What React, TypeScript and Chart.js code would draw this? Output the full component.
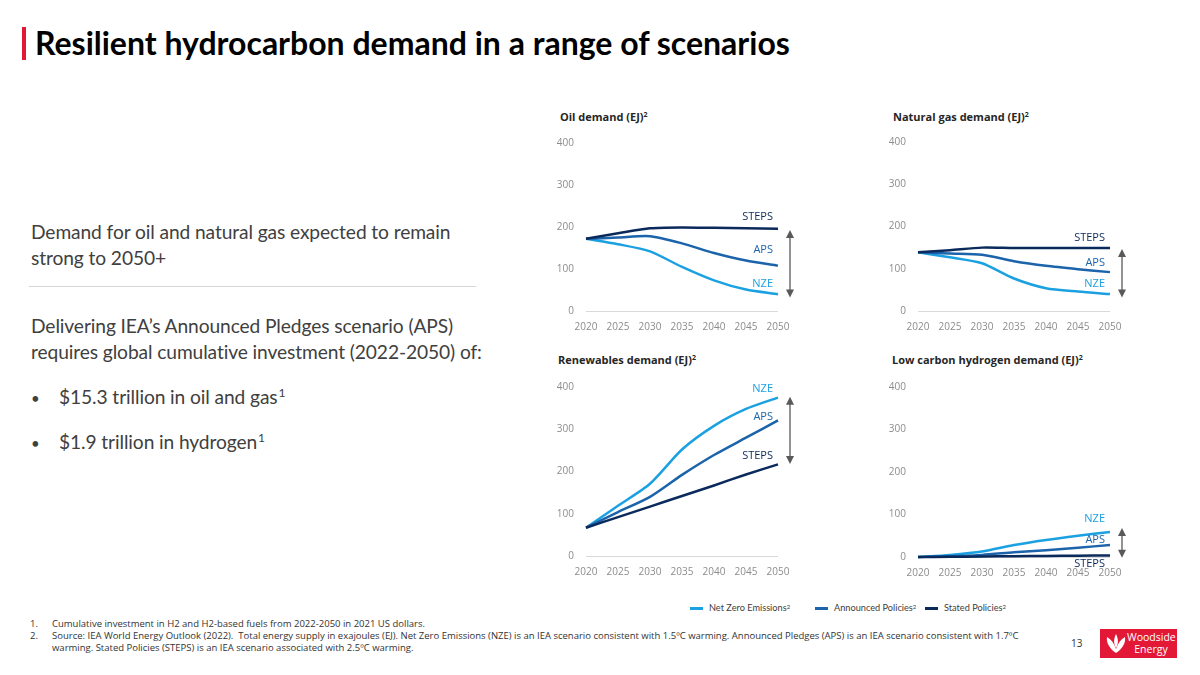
import React, { useEffect, useRef } from "react";
import { Chart, registerables } from "chart.js";
Chart.register(...registerables);

// ---------- data ----------
const years = ["2020", "2025", "2030", "2035", "2040", "2045", "2050"];
const yTickMax = 400;
const yTickStep = 100;

const oilNZE = [172, 159, 142, 105, 73, 51, 40];
const oilAPS = [172, 175, 178, 161, 138, 120, 108];
const oilSTEPS = [172, 185, 197, 199, 198, 197, 196];

const gasNZE = [139, 127, 113, 77, 54, 46, 40];
const gasAPS = [139, 136, 133, 118, 107, 99, 92];
const gasSTEPS = [139, 144, 150, 149, 149, 149, 149];

const renNZE = [67, 119, 171, 252, 308, 348, 375];
const renAPS = [67, 104, 140, 192, 239, 280, 321];
const renSTEPS = [67, 92, 117, 142, 167, 193, 217];

const h2NZE = [0, 5, 13, 28, 40, 50, 59];
const h2APS = [0, 2, 5, 11, 16, 22, 28];
const h2STEPS = [0, 0.5, 1, 2, 2.5, 3, 3.5];

const seriesNames = ["Net Zero Emissions", "Announced Policies", "Stated Policies"];
const scenarioTags = ["NZE", "APS", "STEPS"];

// label positions as values (EJ) and arrow spans (EJ)
const oilLabelValues = [64, 145, 225];
const gasLabelValues = [64, 114, 174];
const renLabelValues = [395, 329, 237];
const h2LabelValues = [90, 41, -15];

const oilArrow = [193, 32];
const gasArrow = [147, 32];
const renArrow = [377, 218];
const h2Arrow = [68, -2];

// ---------- styles ----------
const COLORS = ["#1ba1e2", "#1b64ab", "#0b2a5c"];
const FONT = '"Open Sans", "Noto Sans", sans-serif';
const TICK_COLOR = "#8c8c8c";

type PanelProps = {
  left: number;
  top: number;
  width: number;
  height: number;
  series: number[][];
  labelValues: number[];
  arrow: number[];
};

function Panel({ left, top, width, height, series, labelValues, arrow }: PanelProps) {
  const ref = useRef<HTMLCanvasElement>(null);
  useEffect(() => {
    const annPlugin = {
      id: "scenarioAnn",
      afterDatasetsDraw(chart: any) {
        const { ctx, scales } = chart;
        const x = scales.x;
        const y = scales.y;
        const xEnd = x.getPixelForValue(years.length - 1);
        ctx.save();
        ctx.font = `11px ${FONT}`;
        ctx.textAlign = "right";
        ctx.textBaseline = "middle";
        labelValues.forEach((v, i) => {
          ctx.fillStyle = COLORS[i];
          ctx.fillText(scenarioTags[i], xEnd - 5, y.getPixelForValue(v));
        });
        const ax = xEnd + 12;
        const y1 = y.getPixelForValue(arrow[0]);
        const y2 = y.getPixelForValue(arrow[1]);
        ctx.strokeStyle = "#595959";
        ctx.fillStyle = "#595959";
        ctx.lineWidth = 1.3;
        ctx.beginPath();
        ctx.moveTo(ax, y1 + 5);
        ctx.lineTo(ax, y2 - 5);
        ctx.stroke();
        ctx.beginPath();
        ctx.moveTo(ax, y1);
        ctx.lineTo(ax - 4, y1 + 8);
        ctx.lineTo(ax + 4, y1 + 8);
        ctx.closePath();
        ctx.fill();
        ctx.beginPath();
        ctx.moveTo(ax, y2);
        ctx.lineTo(ax - 4, y2 - 8);
        ctx.lineTo(ax + 4, y2 - 8);
        ctx.closePath();
        ctx.fill();
        ctx.restore();
      },
    };
    const chart = new Chart(ref.current!, {
      type: "line",
      data: {
        labels: years,
        datasets: series
          .map((d, i) => ({
            label: seriesNames[i],
            data: d,
            borderColor: COLORS[i],
            backgroundColor: COLORS[i],
            borderWidth: 2.5,
            pointRadius: 0,
            tension: 0.25,
            fill: false,
            clip: false as any,
          }))
          .reverse(),
      },
      options: {
        animation: false,
        responsive: false,
        maintainAspectRatio: false,
        layout: { padding: { top: 13, right: 22, left: 0, bottom: 0 } },
        plugins: { legend: { display: false }, tooltip: { enabled: false }, title: { display: false } },
        scales: {
          x: {
            offset: false,
            grid: { display: false, drawTicks: false },
            border: { display: false },
            ticks: { color: TICK_COLOR, font: { family: FONT, size: 10 }, padding: 10, maxRotation: 0, autoSkip: false },
            afterFit: (s: any) => {
              s.height = 29;
            },
          },
          y: {
            min: 0,
            max: yTickMax,
            ticks: { stepSize: yTickStep, color: TICK_COLOR, font: { family: FONT, size: 10 }, padding: 12 },
            grid: {
              drawTicks: false,
              lineWidth: 1,
              color: (c: any) => (c.tick && c.tick.value === 0 ? "#d9d9d9" : "rgba(0,0,0,0)"),
            },
            border: { display: false },
            afterFit: (s: any) => {
              s.width = 36;
            },
          },
        },
      },
      plugins: [annPlugin],
    });
    return () => chart.destroy();
  }, []);
  return (
    <canvas
      ref={ref}
      width={width}
      height={height}
      style={{ position: "absolute", left, top, width, height }}
    />
  );
}

const abs = (left: number, top: number, extra: React.CSSProperties = {}): React.CSSProperties => ({
  position: "absolute",
  left,
  top,
  whiteSpace: "nowrap",
  ...extra,
});

function PanelTitle({ left, top, text }: { left: number; top: number; text: string }) {
  return (
    <div style={abs(left, top, { fontFamily: FONT, fontWeight: 700, fontSize: 11, color: "#262626", lineHeight: "14px" })}>
      {text}
      <sup style={{ fontSize: 7, verticalAlign: "top", position: "relative", top: -2 }}>2</sup>
    </div>
  );
}

export default function App() {
  const bodyText: React.CSSProperties = {
    fontFamily: "Lato, sans-serif",
    fontSize: 19.2,
    letterSpacing: -0.1,
    color: "#404040",
    lineHeight: "26px",
  };
  const sup1: React.CSSProperties = { fontSize: 12, verticalAlign: "top", position: "relative", top: -4, marginLeft: 1 };
  const foot: React.CSSProperties = { fontFamily: FONT, fontSize: 9.5, color: "#333", lineHeight: "12px" };
  const legendLefts = [690, 815, 925];
  return (
    <div style={{ position: "fixed", left: 0, top: 0, width: 1200, height: 675, background: "#fff", overflow: "hidden" }}>
      {/* title */}
      <div style={{ position: "absolute", left: 22, top: 27, width: 4, height: 33, background: "#e31837" }} />
      <div style={abs(35, 22, { fontFamily: "Lato, sans-serif", fontWeight: 700, fontSize: 32, color: "#000", lineHeight: "42px" })}>
        Resilient hydrocarbon demand in a range of scenarios
      </div>

      {/* left text */}
      <div style={abs(31, 219, bodyText)}>
        Demand for oil and natural gas expected to remain
        <br />
        strong to 2050+
      </div>
      <div style={{ position: "absolute", left: 29, top: 286, width: 447, height: 1, background: "#d6d6d6" }} />
      <div style={abs(31, 313, bodyText)}>
        Delivering IEA’s Announced Pledges scenario (APS)
        <br />
        requires global cumulative investment (2022-2050) of:
      </div>
      <div style={abs(31, 385, { ...bodyText, fontSize: 15 })}>•</div>
      <div style={abs(59, 384, bodyText)}>
        $15.3 trillion in oil and gas<sup style={sup1}>1</sup>
      </div>
      <div style={abs(31, 430, { ...bodyText, fontSize: 15 })}>•</div>
      <div style={abs(59, 429, bodyText)}>
        $1.9 trillion in hydrogen<sup style={sup1}>1</sup>
      </div>

      {/* chart titles */}
      <PanelTitle left={560} top={110} text="Oil demand (EJ)" />
      <PanelTitle left={893} top={110} text="Natural gas demand (EJ)" />
      <PanelTitle left={558} top={353} text="Renewables demand (EJ)" />
      <PanelTitle left={892} top={353} text="Low carbon hydrogen demand (EJ)" />

      {/* charts */}
      <Panel left={550} top={125} width={250} height={215} series={[oilNZE, oilAPS, oilSTEPS]} labelValues={oilLabelValues} arrow={oilArrow} />
      <Panel left={882} top={124} width={250} height={216} series={[gasNZE, gasAPS, gasSTEPS]} labelValues={gasLabelValues} arrow={gasArrow} />
      <Panel left={550} top={369} width={250} height={216} series={[renNZE, renAPS, renSTEPS]} labelValues={renLabelValues} arrow={renArrow} />
      <Panel left={882} top={369} width={250} height={217} series={[h2NZE, h2APS, h2STEPS]} labelValues={h2LabelValues} arrow={h2Arrow} />

      {/* legend */}
      {seriesNames.map((n, i) => (
        <div
          key={n}
          style={abs(legendLefts[i], 601, {
            fontFamily: "Lato, sans-serif",
            fontSize: 9.2,
            color: "#404040",
            lineHeight: "14px",
            display: "flex",
            alignItems: "center",
          })}
        >
          <span style={{ display: "inline-block", width: 13, height: 3, background: COLORS[i], marginRight: 6 }} />
          {n}
          <sup style={{ fontSize: 6, verticalAlign: "top", position: "relative", top: -1 }}>2</sup>
        </div>
      ))}

      {/* footnotes */}
      <div style={abs(30, 618, foot)}>1.</div>
      <div style={abs(52, 618, foot)}>Cumulative investment in H2 and H2-based fuels from 2022-2050 in 2021 US dollars.</div>
      <div style={abs(30, 630, foot)}>2.</div>
      <div style={abs(52, 630, foot)}>
        Source: IEA World Energy Outlook (2022).&nbsp; Total energy supply in exajoules (EJ). Net Zero Emissions (NZE) is an IEA scenario consistent with 1.5ºC warming. Announced Pledges (APS) is an IEA scenario consistent with 1.7ºC
        <br />
        warming. Stated Policies (STEPS) is an IEA scenario associated with 2.5ºC warming.
      </div>
      <div style={abs(1071, 637, { ...foot, fontSize: 10 })}>13</div>

      {/* logo */}
      <div style={{ position: "absolute", left: 1100, top: 629, width: 77, height: 29, background: "#e31837" }}>
        <svg width="24" height="22" viewBox="0 0 24 22" style={{ position: "absolute", left: 4, top: 4 }}>
          <path d="M12 20 C 6 16, 2 10, 3 4 C 7 6, 10 10, 12 16 Z" fill="#fff" />
          <path d="M12 20 C 18 16, 22 10, 21 4 C 17 6, 14 10, 12 16 Z" fill="#fff" />
          <path d="M12 15 C 9 10, 10 5, 12 1 C 14 5, 15 10, 12 15 Z" fill="#fff" />
        </svg>
        <div style={{ position: "absolute", left: 27, top: 2, fontFamily: FONT, fontSize: 10.5, color: "#fff", lineHeight: "12px", textAlign: "center", width: 48 }}>
          Woodside
          <br />
          Energy
        </div>
      </div>
    </div>
  );
}
